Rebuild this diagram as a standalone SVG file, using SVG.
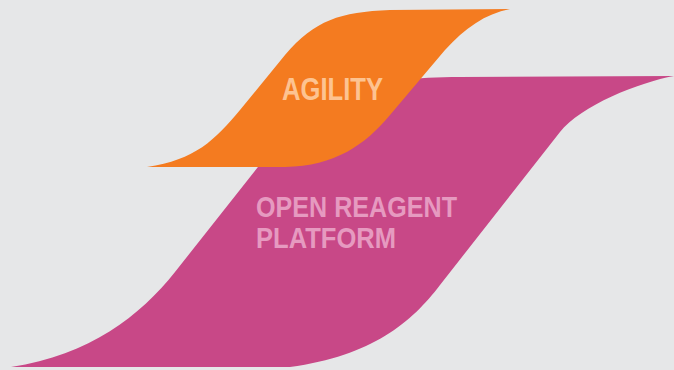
<svg xmlns="http://www.w3.org/2000/svg" width="674" height="370" viewBox="0 0 674 370">
<style>
.lbl{font-family:"Liberation Sans",Arial,sans-serif;font-weight:bold}
</style>
<rect width="674" height="370" fill="#e6e7e8"/>
<g id="open-reagent-platform">
<path d="M11,367 C90,355 140,316 175,272 L295,120 C325,88 370,78 460,77 L674,76 C640,82 580,106 560,132 L440,285 C412,322 372,356 290,367 Z" fill="#c84887"/>
<text class="lbl" fill="#e69ac0" font-size="30" x="256" y="217" textLength="201" lengthAdjust="spacingAndGlyphs">OPEN REAGENT</text>
<text class="lbl" fill="#e69ac0" font-size="30" x="256" y="248" textLength="140" lengthAdjust="spacingAndGlyphs">PLATFORM</text>
</g>
<g id="agility">
<path d="M147,167 C195,160 215,140 240,110 L285,55 C315,20 340,12 390,10 L510,9 C485,14 465,28 445,50 L390,115 C365,145 335,166 285,167 Z" fill="#f47b20"/>
<text class="lbl" fill="#fdc391" font-size="32" x="282" y="100" textLength="101" lengthAdjust="spacingAndGlyphs">AGILITY</text>
</g>
<g id="connectors"/>
</svg>
